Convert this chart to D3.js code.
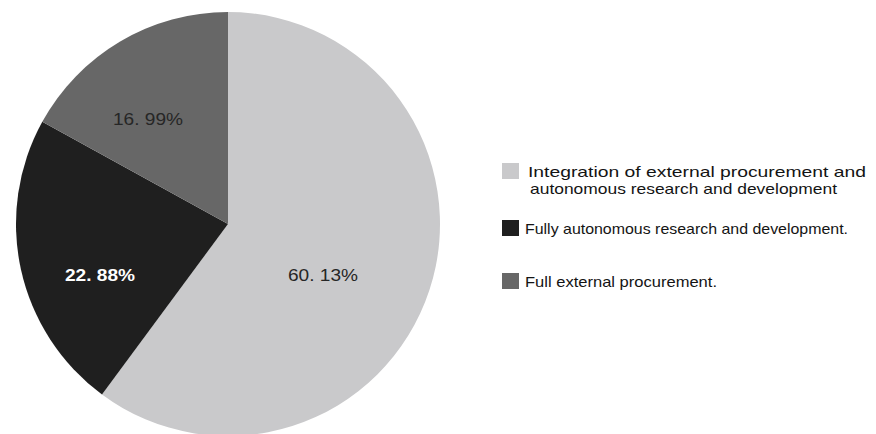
<!DOCTYPE html>
<html>
<head>
<meta charset="utf-8">
<script src="https://cdn.jsdelivr.net/npm/d3@7/dist/d3.min.js"></script>
<style>
  html, body { margin: 0; padding: 0; background: #fff; }
  svg { display: block; }
</style>
</head>
<body>
<svg id="chart" width="876" height="434"></svg>
<script>
// R&D mode shares
const categories = [
  "Integration of external procurement and autonomous research and development",
  "Fully autonomous research and development.",
  "Full external procurement."
];
const shares = [60.13, 22.88, 16.99];
const valueLabels = ["60. 13%", "22. 88%", "16. 99%"];
const sliceColors = ["#c9c9cb", "#1f1f1f", "#676767"];
const labelColors = ["#262626", "#ffffff", "#262626"];

// legend text lines per entry
const legendLines = [
  [" Integration of external procurement and", "autonomous research and development"],
  ["Fully autonomous research and development."],
  ["Full external procurement."]
];

const svg = d3.select("#chart");
const cx = 228, cy = 224, radius = 212;

const pie = d3.pie().sort(null).value(d => d)
  .startAngle(0).endAngle(2 * Math.PI);
const arc = d3.arc().innerRadius(0).outerRadius(radius);
const color = d3.scaleOrdinal().domain(d3.range(shares.length)).range(sliceColors);

const g = svg.append("g").attr("transform", `translate(${cx},${cy})`);
const arcs = pie(shares);

g.selectAll("path.slice")
  .data(arcs)
  .join("path")
  .attr("class", "slice")
  .attr("d", arc)
  .attr("fill", (d, i) => color(i));

// label anchors, relative to the pie centre
const labelOffsets = [[95, 51], [-128, 51], [-80, -105]];
g.selectAll("text.val")
  .data(arcs)
  .join("text")
  .attr("class", "val")
  .attr("x", (d, i) => labelOffsets[i][0])
  .attr("y", (d, i) => labelOffsets[i][1])
  .attr("text-anchor", "middle")
  .attr("dominant-baseline", "central")
  .attr("font-family", "'Liberation Sans', Arial, sans-serif")
  .attr("font-size", 17)
  .attr("font-weight", (d, i) => i === 1 ? "bold" : "normal")
  .attr("textLength", 70)
  .attr("lengthAdjust", "spacingAndGlyphs")
  .attr("fill", (d, i) => labelColors[i])
  .text((d, i) => valueLabels[i]);

// legend
const legendX = 502;
const entryY = [171, 228, 281];   // swatch centre y of each entry
const lineGap = 17;
const textWidths = [[338, 307], [323], [192]];
const legend = svg.append("g");
legendLines.forEach((lines, i) => {
  legend.append("rect")
    .attr("x", legendX)
    .attr("y", entryY[i] - 8)
    .attr("width", 17)
    .attr("height", 16)
    .attr("fill", color(i));
  lines.forEach((line, j) => {
    legend.append("text")
      .attr("x", legendX + (j === 0 && i === 0 ? 26 : (i === 0 ? 28 : 23)))
      .attr("y", entryY[i] + j * lineGap)
      .attr("dominant-baseline", "central")
      .attr("font-family", "'Liberation Sans Narrow', 'Liberation Sans', sans-serif")
      .attr("font-size", 15)
      .attr("fill", "#141414")
      .attr("textLength", textWidths[i][j])
      .attr("lengthAdjust", "spacingAndGlyphs")
      .text(line);
  });
});
</script>
</body>
</html>
